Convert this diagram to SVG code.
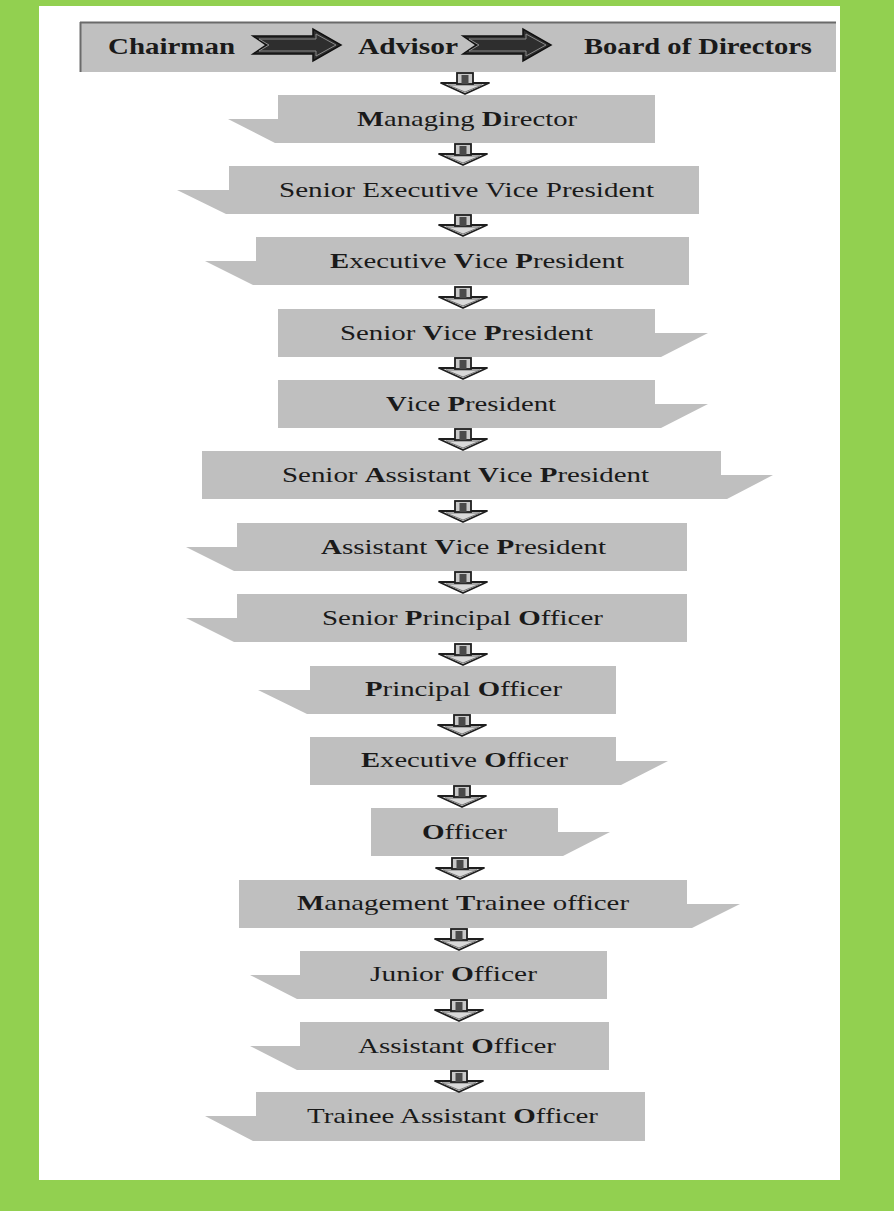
<svg xmlns="http://www.w3.org/2000/svg" width="894" height="1211" viewBox="0 0 894 1211">
<defs>
<style>
.box{fill:#bfbfbf}
.t{font-family:"Liberation Serif","Times New Roman",serif;font-size:21.5px;fill:#1a1a1a}
.b{font-weight:bold}
.ht{font-family:"Liberation Serif","Times New Roman",serif;font-size:24px;font-weight:bold;fill:#1a1a1a}
</style>
<g id="darr">
<polygon points="-24,11 24,11 0,22" fill="#d9d9d9" stroke="#1e1e1e" stroke-width="1.8" stroke-linejoin="round"/>
<polygon points="-17,13 17,13 0,20" fill="none" stroke="#777" stroke-width="1"/>
<rect x="-8" y="1" width="16" height="11" fill="#c8c8c8" stroke="#1e1e1e" stroke-width="1.8"/>
<rect x="-3.5" y="3" width="7" height="9" fill="#4a4a4a"/>
</g>
<g id="rarr">
<polygon points="0,-9 60,-9 60,-16 88,0 60,16 60,9 0,9 13,0" fill="#2e2e2e" stroke="#111" stroke-width="1.5" stroke-linejoin="miter"/>
<polygon points="6,-6 63,-6 63,-11 83,0 63,11 63,6 6,6 16,0" fill="none" stroke="#8a8a8a" stroke-width="1"/>
</g>
</defs>
<rect x="0" y="0" width="894" height="1211" fill="#92d050"/>
<rect x="39" y="6" width="801" height="1174" fill="#ffffff"/>

<g id="header">
<rect x="80" y="22" width="756" height="50" fill="#c0c0c0"/>
<line x1="80" y1="22.5" x2="836" y2="22.5" stroke="#6a6a6a" stroke-width="2"/>
<line x1="80.5" y1="22" x2="80.5" y2="72" stroke="#6a6a6a" stroke-width="2"/>
<g id="chairman"><text class="ht" x="108" y="54" textLength="127" lengthAdjust="spacingAndGlyphs">Chairman</text></g>
<g id="advisor"><text class="ht" x="358" y="54" textLength="100" lengthAdjust="spacingAndGlyphs">Advisor</text></g>
<g id="board"><text class="ht" x="584" y="54" textLength="228" lengthAdjust="spacingAndGlyphs">Board of Directors</text></g>
</g>

<g id="n1"><polygon class="box" points="278,95 655,95 655,143 275,143 228,119 278,119"/><text class="t" x="357" y="126" textLength="220" lengthAdjust="spacingAndGlyphs"><tspan class="b">M</tspan>anaging <tspan class="b">D</tspan>irector</text></g>
<g id="n2"><polygon class="box" points="229,166 699,166 699,214 226,214 177,190 229,190"/><text class="t" x="279" y="197" textLength="375" lengthAdjust="spacingAndGlyphs">Senior Executive Vice President</text></g>
<g id="n3"><polygon class="box" points="256,237 689,237 689,285 253,285 205,261 256,261"/><text class="t" x="330" y="268" textLength="294" lengthAdjust="spacingAndGlyphs"><tspan class="b">E</tspan>xecutive <tspan class="b">V</tspan>ice <tspan class="b">P</tspan>resident</text></g>
<g id="n4"><polygon class="box" points="278,309 655,309 655,333 708,333 661,357 278,357"/><text class="t" x="340" y="340" textLength="253" lengthAdjust="spacingAndGlyphs">Senior <tspan class="b">V</tspan>ice <tspan class="b">P</tspan>resident</text></g>
<g id="n5"><polygon class="box" points="278,380 655,380 655,404 708,404 661,428 278,428"/><text class="t" x="386" y="411" textLength="170" lengthAdjust="spacingAndGlyphs"><tspan class="b">V</tspan>ice <tspan class="b">P</tspan>resident</text></g>
<g id="n6"><polygon class="box" points="202,451 721,451 721,475 773,475 727,499 202,499"/><text class="t" x="282" y="482" textLength="367" lengthAdjust="spacingAndGlyphs">Senior <tspan class="b">A</tspan>ssistant <tspan class="b">V</tspan>ice <tspan class="b">P</tspan>resident</text></g>
<g id="n7"><polygon class="box" points="237,523 687,523 687,571 234,571 186,547 237,547"/><text class="t" x="321" y="554" textLength="285" lengthAdjust="spacingAndGlyphs"><tspan class="b">A</tspan>ssistant <tspan class="b">V</tspan>ice <tspan class="b">P</tspan>resident</text></g>
<g id="n8"><polygon class="box" points="237,594 687,594 687,642 234,642 186,618 237,618"/><text class="t" x="322" y="625" textLength="281" lengthAdjust="spacingAndGlyphs">Senior <tspan class="b">P</tspan>rincipal <tspan class="b">O</tspan>fficer</text></g>
<g id="n9"><polygon class="box" points="310,666 616,666 616,714 307,714 258,690 310,690"/><text class="t" x="365" y="696" textLength="197" lengthAdjust="spacingAndGlyphs"><tspan class="b">P</tspan>rincipal <tspan class="b">O</tspan>fficer</text></g>
<g id="n10"><polygon class="box" points="310,737 616,737 616,761 668,761 621,785 310,785"/><text class="t" x="361" y="767" textLength="207" lengthAdjust="spacingAndGlyphs"><tspan class="b">E</tspan>xecutive <tspan class="b">O</tspan>fficer</text></g>
<g id="n11"><polygon class="box" points="371,808 558,808 558,832 610,832 563,856 371,856"/><text class="t" x="422" y="839" textLength="85" lengthAdjust="spacingAndGlyphs"><tspan class="b">O</tspan>fficer</text></g>
<g id="n12"><polygon class="box" points="239,880 687,880 687,904 740,904 692,928 239,928"/><text class="t" x="297" y="910" textLength="332" lengthAdjust="spacingAndGlyphs"><tspan class="b">M</tspan>anagement <tspan class="b">T</tspan>rainee officer</text></g>
<g id="n13"><polygon class="box" points="300,951 607,951 607,999 297,999 250,975 300,975"/><text class="t" x="370" y="981" textLength="167" lengthAdjust="spacingAndGlyphs">Junior <tspan class="b">O</tspan>fficer</text></g>
<g id="n14"><polygon class="box" points="300,1022 609,1022 609,1070 297,1070 250,1046 300,1046"/><text class="t" x="358" y="1053" textLength="198" lengthAdjust="spacingAndGlyphs">Assistant <tspan class="b">O</tspan>fficer</text></g>
<g id="n15"><polygon class="box" points="256,1092 645,1092 645,1141 253,1141 205,1116 256,1116"/><text class="t" x="307" y="1123" textLength="291" lengthAdjust="spacingAndGlyphs">Trainee Assistant <tspan class="b">O</tspan>fficer</text></g>

<g id="connectors">
<use href="#rarr" x="253" y="45"/>
<use href="#rarr" x="463" y="45"/>
<use href="#darr" x="465" y="72"/>
<use href="#darr" x="463" y="143"/>
<use href="#darr" x="463" y="214"/>
<use href="#darr" x="463" y="286"/>
<use href="#darr" x="463" y="357"/>
<use href="#darr" x="463" y="428"/>
<use href="#darr" x="463" y="500"/>
<use href="#darr" x="463" y="571"/>
<use href="#darr" x="463" y="643"/>
<use href="#darr" x="462" y="714"/>
<use href="#darr" x="462" y="785"/>
<use href="#darr" x="460" y="857"/>
<use href="#darr" x="459" y="928"/>
<use href="#darr" x="459" y="999"/>
<use href="#darr" x="459" y="1070"/>
</g>
</svg>
